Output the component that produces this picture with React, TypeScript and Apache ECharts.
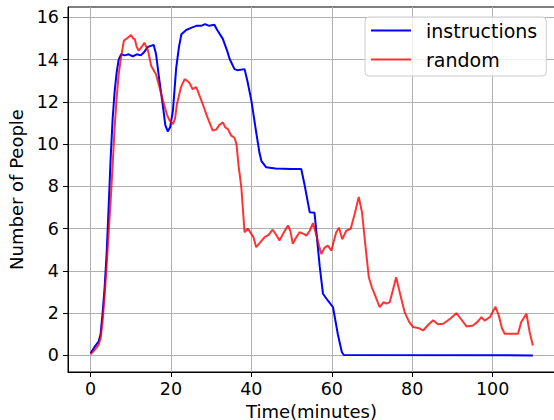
import React, { useEffect, useRef } from "react";
import * as echarts from "echarts";

const xTicks = [0, 20, 40, 60, 80, 100];
const yTicks = [0, 2, 4, 6, 8, 10, 12, 14, 16];

const instructionsT = [0, 1, 2, 2.5, 3, 3.5, 4, 4.5, 5, 5.5, 6, 6.5, 7, 7.6, 8.5, 9.5, 10.5, 11.5, 12.5, 13.3, 14.3, 15.0, 15.7, 16.3, 17, 18, 18.6, 19.2, 19.8, 20.5, 21.3, 22, 22.6, 23.8, 25, 26.3, 27.5, 28.5, 29.5, 30.8, 31.5, 32.9, 34, 34.6, 35.8, 36.5, 38.3, 39, 40, 41, 42, 42.5, 43.7, 46, 50, 52.4, 53.2, 54.5, 55.7, 57, 57.8, 59, 60.3, 61.5, 62.5, 63, 110];
const instructionsV = [0.1, 0.4, 0.65, 1.0, 2.0, 3.2, 4.8, 7.0, 9.3, 11.2, 12.5, 13.4, 14.0, 14.25, 14.2, 14.25, 14.15, 14.25, 14.2, 14.35, 14.6, 14.65, 14.7, 14.25, 13.2, 11.8, 10.9, 10.6, 10.8, 11.6, 13.6, 14.6, 15.2, 15.4, 15.5, 15.6, 15.6, 15.68, 15.6, 15.65, 15.4, 14.98, 14.4, 14.03, 13.55, 13.5, 13.55, 13.0, 12.06, 10.8, 9.6, 9.2, 8.9, 8.85, 8.82, 8.82, 8.1, 6.78, 6.75, 4.2, 2.92, 2.6, 2.28, 1.0, 0.15, 0.02, 0];

const randomT = [0, 1, 2, 2.5, 3, 3.5, 4, 4.5, 5, 5.5, 6, 6.5, 7, 7.5, 8.3, 9, 10.1, 10.6, 11, 11.5, 12, 12.7, 13.4, 14.3, 15.1, 15.7, 16.3, 17, 18, 19, 19.7, 20.5, 21, 21.5, 22.5, 23.4, 24, 24.6, 25.4, 26.3, 27.1, 27.9, 29, 30.4, 31.3, 32, 32.9, 33.5, 34.2, 35, 35.8, 36.3, 36.8, 37.5, 38.3, 39.1, 40, 40.5, 41.2, 42.2, 43.3, 44.3, 45.3, 46.2, 47, 48, 49.1, 49.7, 50.3, 51.2, 52, 53, 53.7, 54.5, 55.3, 56.1, 56.8, 57.4, 58.2, 59, 59.9, 60.5, 61.1, 61.8, 62.6, 63.6, 64.7, 65.7, 66.7, 67.5, 68.3, 69.2, 70, 70.6, 71.9, 72.9, 73.6, 74.4, 75.2, 76, 77, 78.1, 79.2, 80.2, 81.5, 82.7, 84, 85.2, 86.4, 87.7, 89.5, 91, 92.2, 93.5, 95.1, 96.3, 97.2, 98, 99.3, 100.7, 101.5, 102.3, 103, 106.3, 107.1, 108.4, 109.2, 110];
const randomV = [0.05, 0.25, 0.5, 0.8, 1.6, 2.8, 4.2, 5.8, 7.3, 9.0, 10.8, 12.2, 13.3, 14.0, 14.9, 15.0, 15.16, 15.0, 14.97, 14.6, 14.42, 14.6, 14.8, 14.42, 13.7, 13.5, 13.3, 12.8, 12.06, 11.4, 11.1, 10.95, 11.2, 11.9, 12.7, 13.08, 13.0, 12.9, 12.6, 12.7, 12.3, 11.9, 11.3, 10.64, 10.7, 10.9, 11.03, 10.8, 10.7, 10.4, 10.3, 10.0, 9.0, 7.96, 5.83, 6.0, 5.75, 5.6, 5.12, 5.35, 5.6, 5.7, 5.95, 5.7, 5.44, 5.8, 6.15, 5.9, 5.28, 5.6, 5.83, 5.75, 5.67, 5.9, 6.26, 5.75, 5.2, 4.8, 5.1, 5.2, 4.96, 5.4, 5.83, 6.04, 5.5, 5.9, 6.0, 6.7, 7.5, 6.78, 5.3, 3.7, 3.2, 2.92, 2.28, 2.52, 2.45, 2.52, 3.1, 3.7, 2.9, 2.05, 1.6, 1.34, 1.3, 1.18, 1.45, 1.66, 1.47, 1.5, 1.75, 2.0, 1.7, 1.37, 1.42, 1.6, 1.81, 1.65, 1.81, 2.3, 1.9, 1.3, 1.02, 1.02, 1.58, 1.97, 1.1, 0.47];

const FONT = "DejaVu Sans";

export default function App() {
  const ref = useRef<HTMLDivElement>(null);
  useEffect(() => {
    document.body.style.margin = "0";
    const chart = echarts.init(ref.current!, null, { renderer: "svg" });
    const pairs = (t: number[], v: number[]) => t.map((x, i) => [x, v[i]]);
    chart.setOption({
      animation: false,
      backgroundColor: "#ffffff",
      grid: {
        left: 68,
        top: 7,
        width: 487,
        height: 365,
        containLabel: false,
        outerBoundsMode: "none",
        show: true,
        borderColor: "#000000",
        borderWidth: 1,
        backgroundColor: "transparent",
      },
      legend: {
        orient: "vertical",
        left: 365,
        top: 17,
        padding: [4, 9, 7, 6],
        itemWidth: 40,
        itemHeight: 2,
        itemGap: 10,
        icon: "rect",
        backgroundColor: "rgba(255,255,255,0.8)",
        borderColor: "#cccccc",
        borderWidth: 1,
        borderRadius: 4,
        textStyle: { fontFamily: FONT, fontSize: 19, color: "#000", padding: [0, 0, 0, 10] },
        data: ["instructions", "random"],
      },
      xAxis: {
        type: "value",
        min: -5.6,
        max: 115.5,
        name: "Time(minutes)",
        nameLocation: "middle",
        nameGap: 26,
        nameTextStyle: { fontFamily: FONT, fontSize: 18, color: "#000" },
        axisLine: { show: true, onZero: false, lineStyle: { color: "#000", width: 1 } },
        axisTick: { show: true, length: 5, customValues: xTicks, lineStyle: { color: "#000" } },
        axisLabel: { customValues: xTicks, fontFamily: FONT, fontSize: 17.5, color: "#000", margin: 8 },
        splitLine: { show: true, lineStyle: { color: "#b0b0b0", width: 1 } },
      },
      yAxis: {
        type: "value",
        min: -0.785,
        max: 16.49,
        name: "Number of People",
        nameLocation: "middle",
        nameGap: 41,
        nameTextStyle: { fontFamily: FONT, fontSize: 18, color: "#000" },
        axisLine: { show: true, onZero: false, lineStyle: { color: "#000", width: 1 } },
        axisTick: { show: true, length: 5, customValues: yTicks, lineStyle: { color: "#000" } },
        axisLabel: { customValues: yTicks, fontFamily: FONT, fontSize: 17.5, color: "#000", margin: 9 },
        splitLine: { show: true, lineStyle: { color: "#b0b0b0", width: 1 } },
      },
      series: [
        {
          name: "instructions",
          type: "line",
          data: pairs(instructionsT, instructionsV),
          showSymbol: false,
          symbol: "none",
          lineStyle: { color: "#0000ff", width: 2 },
          itemStyle: { color: "#0000ff" },
        },
        {
          name: "random",
          type: "line",
          data: pairs(randomT, randomV),
          showSymbol: false,
          symbol: "none",
          lineStyle: { color: "rgba(255,0,0,0.8)", width: 2 },
          itemStyle: { color: "rgba(255,0,0,0.8)" },
        },
      ],
    });
    return () => chart.dispose();
  }, []);
  return (
    <div
      ref={ref}
      style={{ position: "absolute", left: 0, top: 0, width: 554, height: 420 }}
    />
  );
}
